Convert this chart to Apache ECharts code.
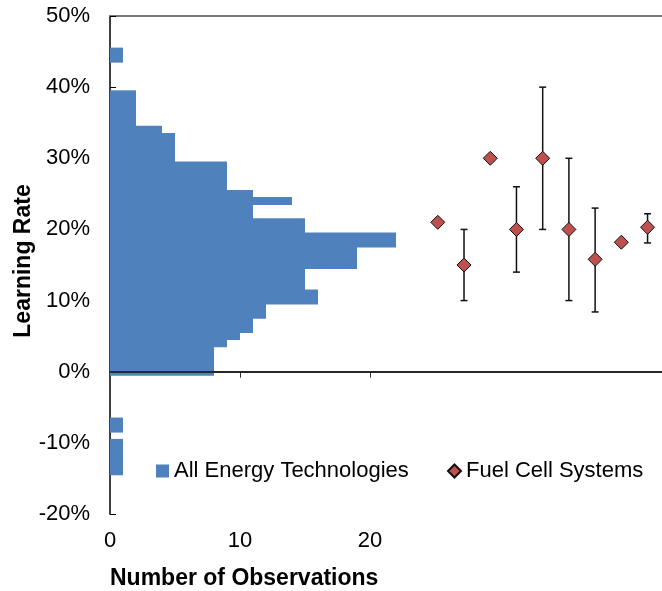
<!DOCTYPE html>
<html>
<head>
<meta charset="utf-8">
<script src="https://cdn.jsdelivr.net/npm/echarts@6/dist/echarts.min.js"></script>
<style>
html,body{margin:0;padding:0;background:#fff;}
#chart{width:662px;height:591px;}
</style>
</head>
<body>
<div id="chart"></div>
<script>
// Histogram: learning-rate bins (%) and number of observations
var binCenters = [-14,-13,-12,-11,-10,-9,-8,-7,-6,-5,-4,-3,-2,-1,
  0,1,2,3,4,5,6,7,8,9,10,11,12,13,14,15,16,17,18,19,20,21,22,23,24,25,
  26,27,28,29,30,31,32,33,34,35,36,37,38,39,40,41,42,43,44,45];
var binCounts = [1,1,1,1,1,0,1,1,0,0,0,0,0,0,
  8,8,8,8,9,10,11,11,12,12,16,16,15,15,15,19,19,19,22,22,15,15,11,11,14,11,
  9,9,9,9,5,5,5,5,4,2,2,2,2,2,0,0,0,0,1,1];
// Fuel cell systems: learning rate (%) with low / high range
var fcIndex = [1,2,3,4,5,6,7,8,9];
var fcRate  = [21,15,30,20,30,20,15.8,18.2,20.3];
var fcLow   = [null,10,null,14,20,10,8.4,null,18.1];
var fcHigh  = [null,20,null,26,40,30,23,null,22.2];
var yTicks = [-20,-10,0,10,20,30,40,50];
var xTickLabels = [0,10,20];

var FONT = "'Liberation Sans', Arial, sans-serif";
var BLUE = '#4F81BD';
var RED = '#C0504D';

var histData = binCenters.map(function(c,i){ return [c, binCounts[i]]; });
var fcData = fcIndex.map(function(x,i){ return [x, fcRate[i]]; });
var errData = [];
fcIndex.forEach(function(x,i){ if (fcLow[i] != null) errData.push([x, fcLow[i], fcHigh[i]]); });

var chart = echarts.init(document.getElementById('chart'), null, {renderer:'canvas'});
chart.setOption({
  animation:false,
  backgroundColor:'#fff',
  grid:{left:110, right:0, top:16, bottom:77},
  legend:[
    {data:['All Energy Technologies'], left:151, top:455, itemWidth:13, itemHeight:13, itemGap:5,
     textStyle:{fontFamily:FONT, fontSize:22, color:'#000'}, icon:'rect'},
    {data:['Fuel Cell Systems'], left:442, top:455, itemWidth:13, itemHeight:13,
     textStyle:{fontFamily:FONT, fontSize:22, color:'#000'}}
  ],
  xAxis:[
    {type:'value', min:0, max:42.46, interval:10, position:'bottom',
     axisLine:{lineStyle:{color:'#333', width:1.5}},
     axisTick:{show:true, inside:false, length:6, customValues:xTickLabels, lineStyle:{color:'#333'}},
     axisLabel:{customValues:xTickLabels, margin:16, fontFamily:FONT, fontSize:22, color:'#000'},
     splitLine:{show:false}},
    {type:'value', min:-11.5, max:9.55, position:'top',
     axisLine:{show:true, lineStyle:{color:'#777', width:2}},
     axisTick:{show:false}, axisLabel:{show:false}, splitLine:{show:false}}
  ],
  yAxis:{type:'value', min:-20, max:50, interval:10,
    axisLine:{show:true, lineStyle:{color:'#000', width:1.5}},
    axisTick:{show:true, inside:true, length:6, lineStyle:{color:'#000'}},
    axisLabel:{formatter:'{value}%', margin:20, fontFamily:FONT, fontSize:22, color:'#000'},
    splitLine:{show:false}},
  graphic:[
    {type:'text', x:110, y:579, style:{text:'Number of Observations', fontFamily:FONT, fontSize:23, fontWeight:'bold', fill:'#000', align:'left', verticalAlign:'middle'}},
    {type:'text', x:24, y:261, rotation:Math.PI/2, style:{text:'Learning Rate', fontFamily:FONT, fontSize:23, fontWeight:'bold', fill:'#000', align:'center', verticalAlign:'middle'}}
  ],
  series:[
    {name:'All Energy Technologies', type:'custom', xAxisIndex:0, yAxisIndex:0,
     itemStyle:{color:BLUE},
     encode:{x:1, y:0},
     data:histData,
     renderItem:function(params, api){
       var c = api.value(0), n = api.value(1);
       if (!n) return null;
       var p0 = api.coord([0, c + 0.5]);
       var p1 = api.coord([n, c - 0.5]);
       return {type:'rect', shape:{x:p0[0], y:p0[1]-0.4, width:p1[0]-p0[0], height:p1[1]-p0[1]+0.8},
               style:{fill:BLUE}};
     },
     markLine:{silent:true, symbol:'none', label:{show:false},
       lineStyle:{color:'#111', width:1.5, type:'solid'},
       data:[{yAxis:0}]},
     z:2},
    {name:'errors', type:'custom', xAxisIndex:1, yAxisIndex:0,
     encode:{x:0, y:[1,2]},
     data:errData,
     renderItem:function(params, api){
       var x = api.value(0);
       var lo = api.coord([x, api.value(1)]);
       var hi = api.coord([x, api.value(2)]);
       var w = 3.5;
       var st = {stroke:'#111', lineWidth:1.5};
       return {type:'group', children:[
         {type:'line', shape:{x1:lo[0], y1:lo[1], x2:hi[0], y2:hi[1]}, style:st},
         {type:'line', shape:{x1:lo[0]-w, y1:lo[1], x2:lo[0]+w, y2:lo[1]}, style:st},
         {type:'line', shape:{x1:hi[0]-w, y1:hi[1], x2:hi[0]+w, y2:hi[1]}, style:st}
       ]};
     },
     z:3},
    {name:'Fuel Cell Systems', type:'scatter', xAxisIndex:1, yAxisIndex:0,
     symbol:'diamond', symbolSize:14,
     itemStyle:{color:RED, borderColor:'#111', borderWidth:1, opacity:1},
     data:fcData, z:4}
  ]
});
</script>
</body>
</html>
